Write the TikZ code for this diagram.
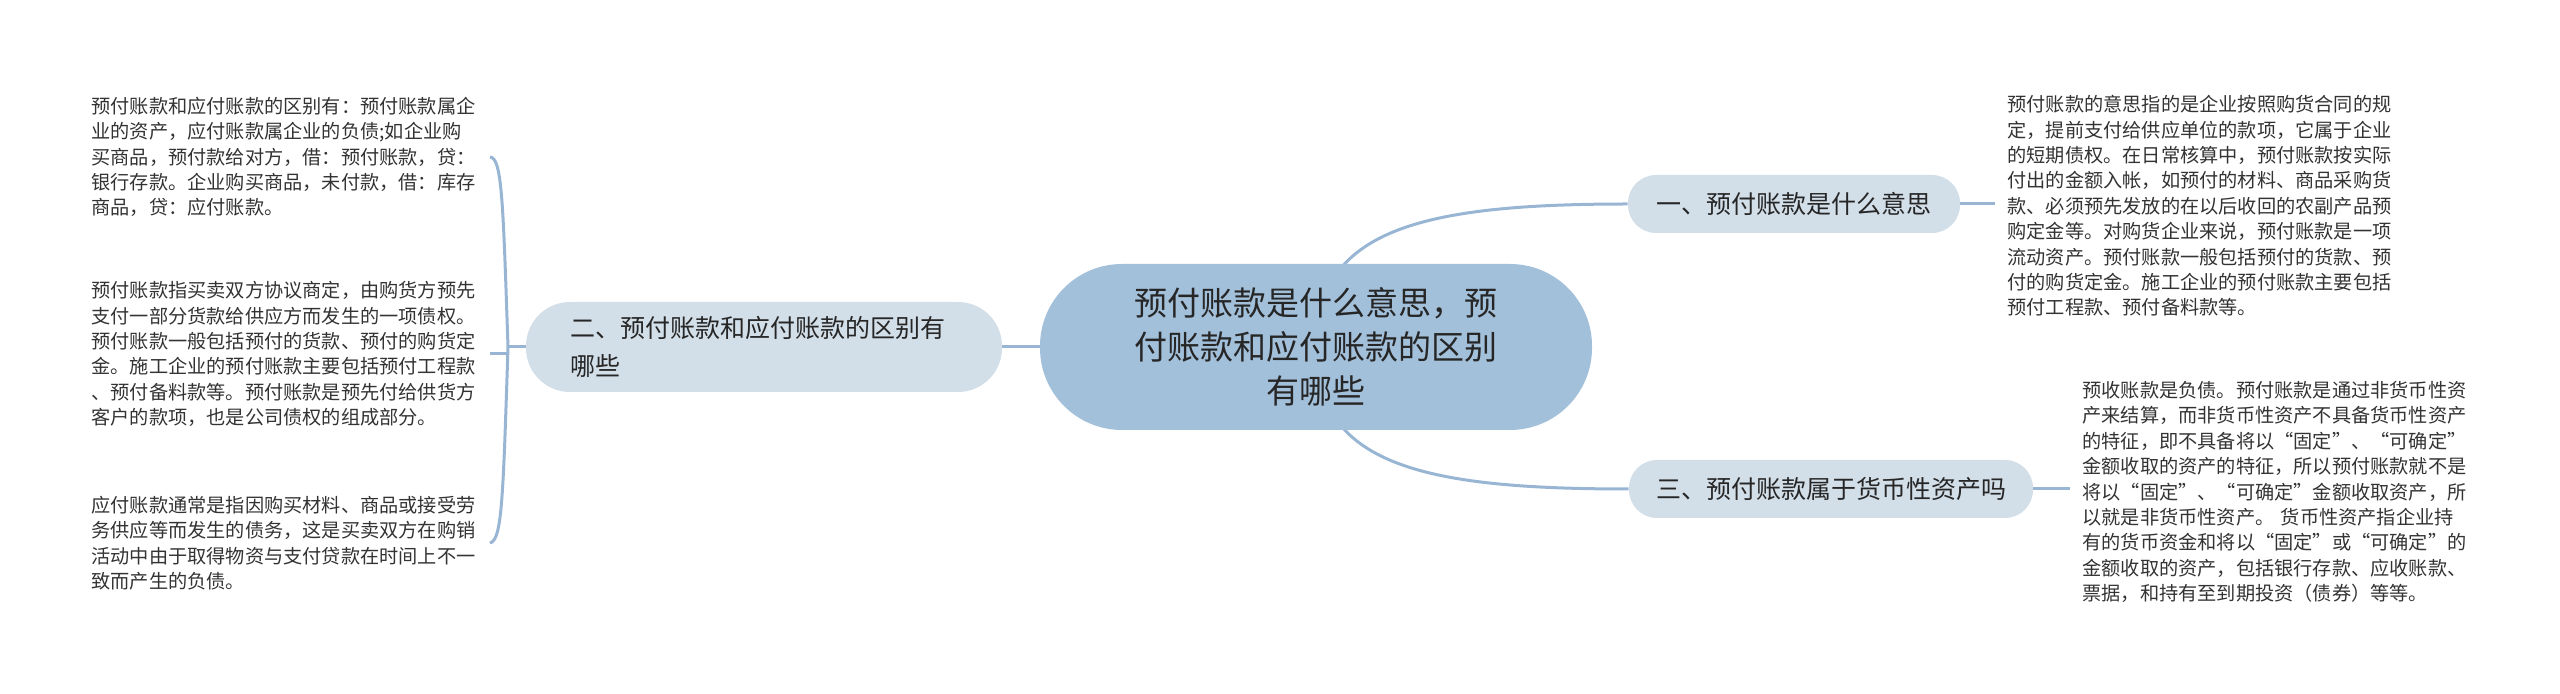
\documentclass[tikz,border=0pt]{standalone}
\usepackage{fontspec}
\setmainfont{Noto Sans CJK SC}
\usetikzlibrary{positioning,backgrounds}

\definecolor{rootblue}{HTML}{A3C0DB}
\definecolor{branchblue}{HTML}{D2DEE8}
\definecolor{linkblue}{HTML}{98B6D4}
\definecolor{leafgray}{HTML}{333333}

\tikzset{
	root/.style={rectangle, rounded corners=41pt, fill=rootblue, minimum width=276pt, minimum height=83pt, align=center, text=black!85, font=\fontsize{16.5}{22}\selectfont},
	branch/.style={rectangle, rounded corners=14pt, fill=branchblue, minimum height=29pt, text=black!85, font=\fontsize{12.5}{19}\selectfont},
	leaf/.style={inner xsep=6pt, inner ysep=0pt, text width=193pt, align=left, text=leafgray, font=\fontsize{9.6}{12.7}\selectfont},
	link/.style={draw=linkblue, line width=1.5pt},
}

\begin{document}
\begin{tikzpicture}[x=0.5pt, y=-0.5pt]
			\useasboundingbox (0,0) rectangle (2560,694);
			
			\node (0) [root] at (1316,347) {预付账款是什么意思，预\\付账款和应付账款的区别\\有哪些}; 
			\node (1) [branch, minimum width=166pt] at (1794,204) {一、预付账款是什么意思}; 
			\node (2) [branch, rounded corners=22pt, minimum height=45pt, text width=194pt, inner xsep=22pt, align=left] at (764,347) {二、预付账款和应付账款的区别有\\哪些}; 
			\node (3) [branch, minimum width=202pt] at (1831,489) {三、预付账款属于货币性资产吗}; 
			
			\node (11) [leaf, anchor=west] at (1995,206) {预付账款的意思指的是企业按照购货合同的规\\定，提前支付给供应单位的款项，它属于企业\\的短期债权。在日常核算中，预付账款按实际\\付出的金额入帐，如预付的材料、商品采购货\\款、必须预先发放的在以后收回的农副产品预\\购定金等。对购货企业来说，预付账款是一项\\流动资产。预付账款一般包括预付的货款、预\\付的购货定金。施工企业的预付账款主要包括\\预付工程款、预付备料款等。}; 
			\node (21) [leaf, anchor=east] at (490,157) {预付账款和应付账款的区别有：预付账款属企\\业的资产，应付账款属企业的负债;如企业购\\买商品，预付款给对方，借：预付账款，贷：\\银行存款。企业购买商品，未付款，借：库存\\商品，贷：应付账款。}; 
			\node (22) [leaf, anchor=east] at (490,354) {预付账款指买卖双方协议商定，由购货方预先\\支付一部分货款给供应方而发生的一项债权。\\预付账款一般包括预付的货款、预付的购货定\\金。施工企业的预付账款主要包括预付工程款\\、预付备料款等。预付账款是预先付给供货方\\客户的款项，也是公司债权的组成部分。}; 
			\node (23) [leaf, anchor=east] at (490,543) {应付账款通常是指因购买材料、商品或接受劳\\务供应等而发生的债务，这是买卖双方在购销\\活动中由于取得物资与支付贷款在时间上不一\\致而产生的负债。}; 
			\node (31) [leaf, anchor=west] at (2070,492) {预收账款是负债。预付账款是通过非货币性资\\产来结算，而非货币性资产不具备货币性资产\\的特征，即不具备将以“固定”、“可确定”\\金额收取的资产的特征，所以预付账款就不是\\将以“固定”、“可确定”金额收取资产，所\\以就是非货币性资产。 货币性资产指企业持\\有的货币资金和将以“固定”或“可确定”的\\金额收取的资产，包括银行存款、应收账款、\\票据，和持有至到期投资（债券）等等。}; 
			
			\coordinate (fork) at (508,347);
			
			\begin{scope}[on background layer]
			\draw[link] (0.center) .. controls (1316,230) and (1420,204) .. (1.west);
			\draw[link] (0.center) .. controls (1316,464) and (1420,489) .. (3.west);
			\end{scope}
			\draw[link] (0.west) -- (2.east);
			\draw[link] (1.east) -- (11.west |- 1.east);
			\draw[link] (3.east) -- (31.west |- 3.east);
			\draw[link] (2.west) -- (fork);
			\draw[link] (fork) .. controls (503,200) and (502,158) .. (21.east);
			\draw[link] (22.east) -- (fork |- 22.east);
			\draw[link] (fork) .. controls (503,500) and (502,540) .. (23.east);
		\end{tikzpicture}
\end{document}
